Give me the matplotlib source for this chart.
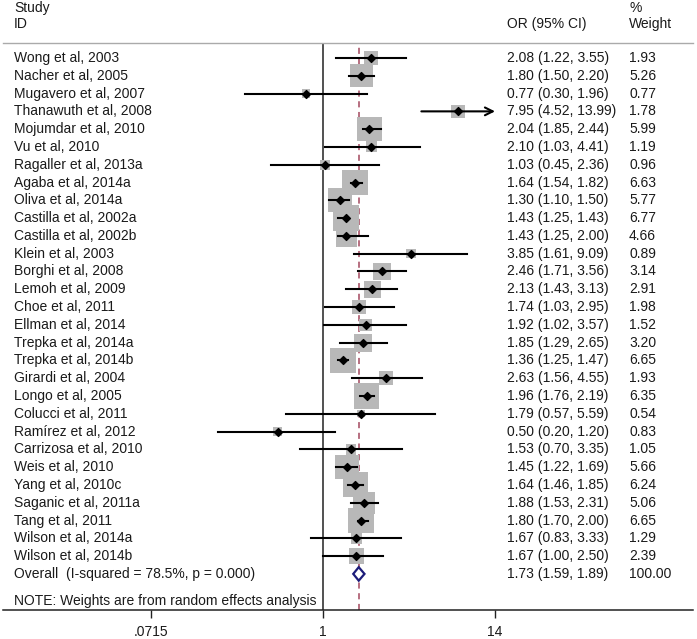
import numpy as np
import matplotlib
matplotlib.use("Agg")
import matplotlib.pyplot as plt
from matplotlib.patches import Polygon

plt.rcParams['font.family'] = ['Liberation Sans', 'DejaVu Sans']

studies = ["Wong et al, 2003", "Nacher et al, 2005", "Mugavero et al, 2007",
           "Thanawuth et al, 2008", "Mojumdar et al, 2010", "Vu et al, 2010",
           "Ragaller et al, 2013a", "Agaba et al, 2014a", "Oliva et al, 2014a",
           "Castilla et al, 2002a", "Castilla et al, 2002b", "Klein et al, 2003",
           "Borghi et al, 2008", "Lemoh et al, 2009", "Choe et al, 2011",
           "Ellman et al, 2014", "Trepka et al, 2014a", "Trepka et al, 2014b",
           "Girardi et al, 2004", "Longo et al, 2005", "Colucci et al, 2011",
           "Ramírez et al, 2012", "Carrizosa et al, 2010", "Weis et al, 2010",
           "Yang et al, 2010c", "Saganic et al, 2011a", "Tang et al, 2011",
           "Wilson et al, 2014a", "Wilson et al, 2014b"]
orv = [2.08, 1.80, 0.77, 7.95, 2.04, 2.10, 1.03, 1.64, 1.30, 1.43, 1.43, 3.85,
       2.46, 2.13, 1.74, 1.92, 1.85, 1.36, 2.63, 1.96, 1.79, 0.50, 1.53, 1.45,
       1.64, 1.88, 1.80, 1.67, 1.67]
lo = [1.22, 1.50, 0.30, 4.52, 1.85, 1.03, 0.45, 1.54, 1.10, 1.25, 1.25, 1.61,
      1.71, 1.43, 1.03, 1.02, 1.29, 1.25, 1.56, 1.76, 0.57, 0.20, 0.70, 1.22,
      1.46, 1.53, 1.70, 0.83, 1.00]
hi = [3.55, 2.20, 1.96, 13.99, 2.44, 4.41, 2.36, 1.82, 1.50, 1.43, 2.00, 9.09,
      3.56, 3.13, 2.95, 3.57, 2.65, 1.47, 4.55, 2.19, 5.59, 1.20, 3.35, 1.69,
      1.85, 2.31, 2.00, 3.33, 2.50]
weight = [1.93, 5.26, 0.77, 1.78, 5.99, 1.19, 0.96, 6.63, 5.77, 6.77, 4.66,
          0.89, 3.14, 2.91, 1.98, 1.52, 3.20, 6.65, 1.93, 6.35, 0.54, 0.83,
          1.05, 5.66, 6.24, 5.06, 6.65, 1.29, 2.39]
overall = (1.73, 1.59, 1.89)
overall_label = "Overall  (I-squared = 78.5%, p = 0.000)"
xticks = [0.0715, 1, 14]
xticklabels = [".0715", "1", "14"]

W, H = 697, 639
fig = plt.figure(figsize=(W / 100, H / 100), dpi=100)
ax_l, ax_r, ax_t, ax_b = 3, 693, 43, 610
ax = fig.add_axes([ax_l / W, 1 - ax_b / H, (ax_r - ax_l) / W, (ax_b - ax_t) / H])

# log x: 1 at px 323, 65.2 px per ln unit
px1, k = 323, 65.2
ax.set_xscale('log')
ax.set_xlim(np.exp((ax_l - px1) / k), np.exp((ax_r - px1) / k))
row0, dy = 58, 17.79
ax.set_ylim((ax_b - row0) / dy, (ax_t - row0) / dy)

n = len(studies)
y = np.arange(n)
txtc = '#1a1a1a'
fs = 10

ax.axvline(1, color='#222222', lw=1.1, zorder=1)
ax.axvline(overall[0], color='#a3485e', lw=1.1, ls=(0, (4, 3)), zorder=1)

# weight squares
side_px = 10.0 * np.sqrt(np.array(weight))
ax.scatter(orv, y, s=(side_px * 0.72) ** 2, marker='s', color='#b8b8b8',
           edgecolors='none', zorder=2)
for i in range(n):
    if studies[i].startswith("Thanawuth"):
        ax.annotate('', xy=(hi[i], y[i]), xytext=(lo[i], y[i]),
                    arrowprops=dict(arrowstyle='->', lw=1.5, color='black',
                                    mutation_scale=14, shrinkA=0, shrinkB=0),
                    zorder=3)
    else:
        ax.plot([lo[i], hi[i]], [y[i], y[i]], color='black', lw=1.5, zorder=3)
ax.scatter(orv, y, s=16, marker='D', color='black', zorder=4)

# overall diamond
yo = n
h = 0.38
dia = Polygon([(overall[1], yo), (overall[0], yo - h), (overall[2], yo),
               (overall[0], yo + h)], closed=True, facecolor='white',
              edgecolor='#1c1c7a', lw=1.6, zorder=4)
ax.add_patch(dia)

# text columns
tx = ax.get_yaxis_transform()
def xf(px):
    return (px - ax_l) / (ax_r - ax_l)
c1, c2, c3 = 14, 507, 629
for i in range(n):
    ax.text(xf(c1), y[i], studies[i], transform=tx, va='center', ha='left',
            fontsize=fs, color=txtc)
    ax.text(xf(c2), y[i], f"{orv[i]:.2f} ({lo[i]:.2f}, {hi[i]:.2f})",
            transform=tx, va='center', ha='left', fontsize=fs, color=txtc)
    ax.text(xf(c3), y[i], f"{weight[i]:.2f}", transform=tx, va='center',
            ha='left', fontsize=fs, color=txtc)
ax.text(xf(c1), yo, overall_label, transform=tx, va='center', ha='left',
        fontsize=fs, color=txtc)
ax.text(xf(c2), yo, f"{overall[0]:.2f} ({overall[1]:.2f}, {overall[2]:.2f})",
        transform=tx, va='center', ha='left', fontsize=fs, color=txtc)
ax.text(xf(c3), yo, "100.00", transform=tx, va='center', ha='left',
        fontsize=fs, color=txtc)
ax.text(xf(c1), (601 - row0) / dy, "NOTE: Weights are from random effects analysis",
        transform=tx, va='center', ha='left', fontsize=fs, color=txtc)

# header
for px, py, s in [(c1, 8, "Study"), (c1, 24, "ID"), (c2, 24, "OR (95% CI)"),
                  (c3, 8, "%"), (c3, 24, "Weight")]:
    fig.text(px / W, 1 - py / H, s, va='center', ha='left', fontsize=fs, color=txtc)

for sp in ['left', 'right']:
    ax.spines[sp].set_visible(False)
ax.spines['top'].set_color('#aaaaaa')
ax.spines['top'].set_linewidth(1.0)
ax.spines['bottom'].set_color('#222222')
ax.spines['bottom'].set_linewidth(1.1)
ax.set_yticks([])
ax.set_xticks(xticks)
ax.set_xticklabels(xticklabels, fontsize=fs, color=txtc)
ax.xaxis.set_minor_locator(matplotlib.ticker.NullLocator())
ax.tick_params(axis='x', length=6, width=1, color='#222222', pad=5)

fig.savefig("out.png", dpi=100)
